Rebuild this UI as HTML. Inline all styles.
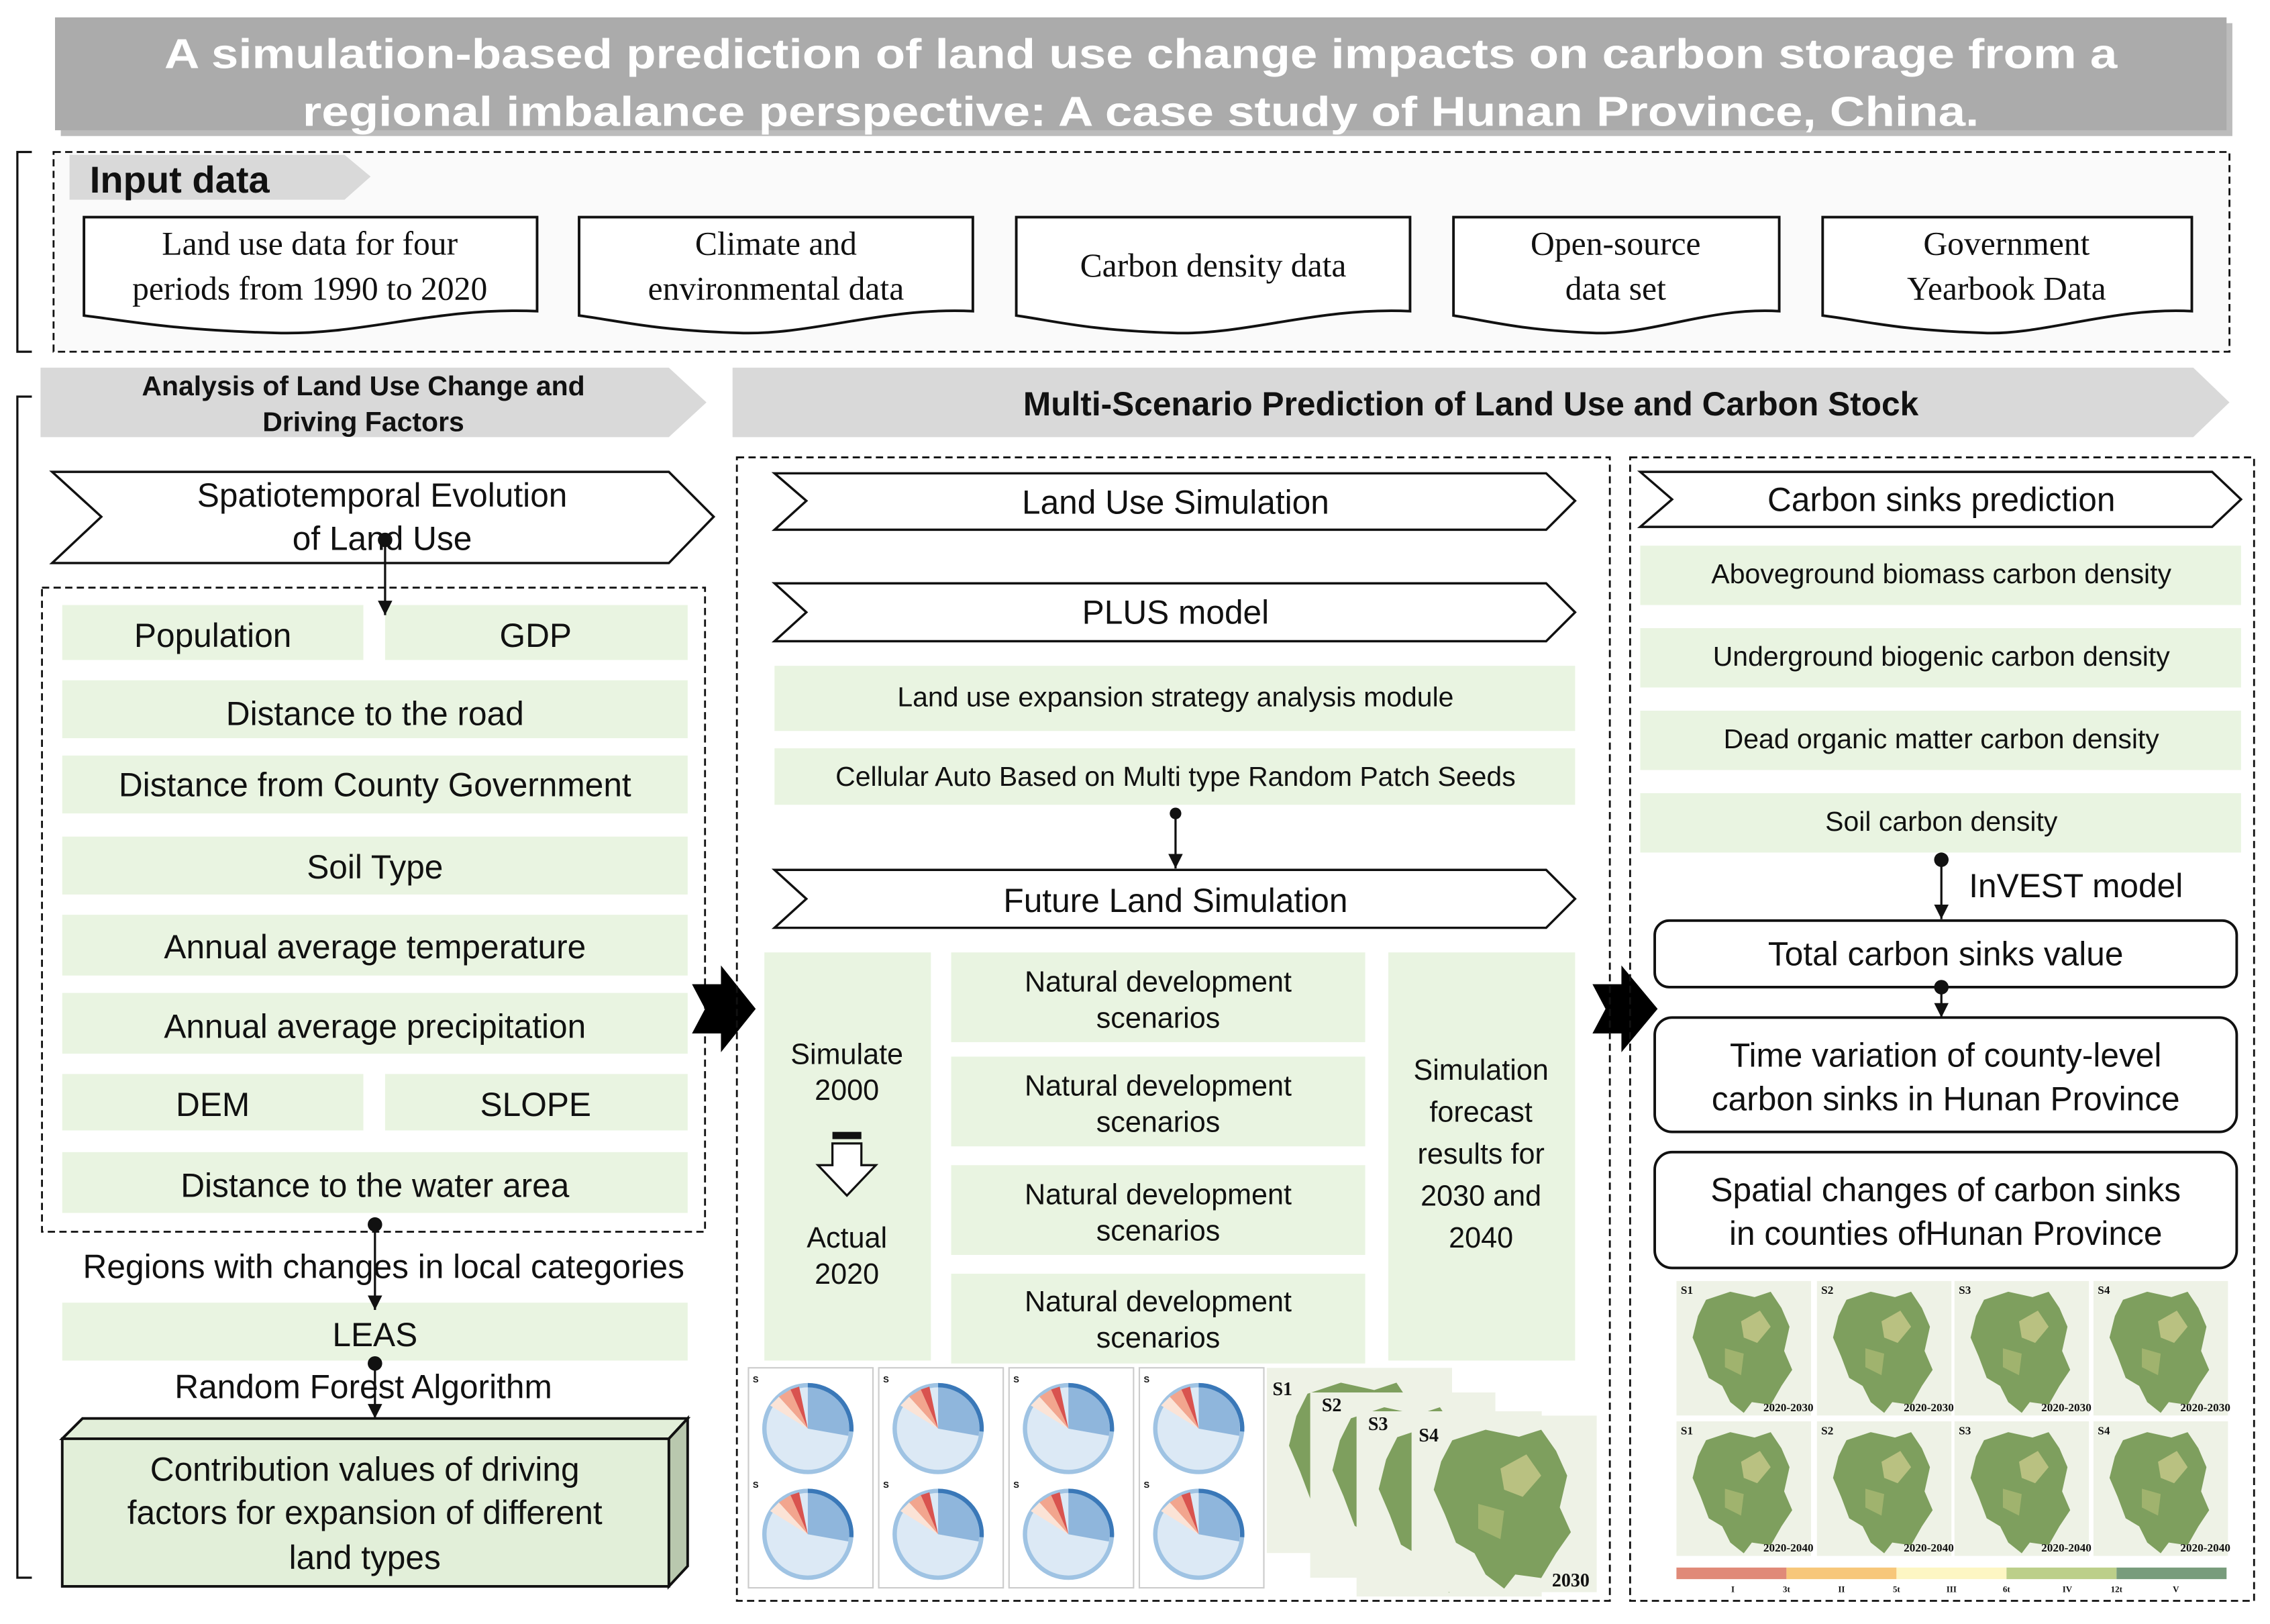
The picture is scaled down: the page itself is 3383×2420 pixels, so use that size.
<!DOCTYPE html>
<html><head><meta charset="utf-8"><style>
html,body{margin:0;padding:0;background:#fff;}
svg{display:block}
text{font-family:"Liberation Sans",Arial,sans-serif;fill:#111}
.serif{font-family:"Liberation Serif","Times New Roman",serif}
.g{fill:#e9f4e1}
.chev{fill:#fff;stroke:#111;stroke-width:1.6}
.dash{fill:none;stroke:#111;stroke-width:1.3;stroke-dasharray:5 3}
</style></head><body>
<svg width="3383" height="2420" viewBox="0 0 1568 1122" preserveAspectRatio="none" xmlns="http://www.w3.org/2000/svg">
<defs>
<marker id="ah" markerWidth="10" markerHeight="10" refX="10" refY="5" orient="auto" markerUnits="userSpaceOnUse"><path d="M0,0 L10,5 L0,10 z" fill="#111"/></marker>
<symbol id="chord" viewBox="0 0 85 75">
<circle cx="40" cy="40" r="30" fill="#dce9f5" stroke="#9fc3e3" stroke-width="3"/>
<path d="M40,10 A30,30 0 0 1 68,45 L40,40 z" fill="#8fb6dc"/>
<path d="M40,10 A30,30 0 0 1 70,42" fill="none" stroke="#3a78b8" stroke-width="3"/>
<path d="M28,13 L40,40 L34,11 z" fill="#d9534f"/>
<path d="M20,18 L40,40 L28,13 z" fill="#f2a58e"/>
<path d="M14,24 L40,40 L20,18 z" fill="#fbe3d6"/>
<text x="2" y="8" font-size="6" font-weight="bold">S</text>
</symbol>
<symbol id="hunan" viewBox="0 0 100 100">
<rect width="100" height="100" fill="#eef2e6"/>
<path d="M22,14 L40,8 L58,12 L70,8 L78,20 L84,34 L80,52 L86,66 L78,78 L70,92 L56,90 L50,98 L40,90 L34,78 L24,72 L18,56 L12,42 L16,26 z" fill="#7e9f5e"/>
<path d="M48,30 L62,22 L70,34 L60,46 L50,42 z" fill="#c8c98a" opacity=".8"/>
<path d="M36,50 L50,54 L48,70 L36,64 z" fill="#a9b872" opacity=".8"/>
</symbol>
</defs>

<!-- Title -->
<rect x="42" y="16" width="1500" height="78" fill="#7a7a7a" opacity=".5"/>
<rect x="38" y="12" width="1500" height="78" fill="#ababab"/>
<text x="788" y="47" font-size="29" font-weight="bold" text-anchor="middle" style="fill:#fff" textLength="1349" lengthAdjust="spacingAndGlyphs">A simulation-based prediction of land use change impacts on carbon storage from a</text>
<text x="788" y="87" font-size="29" font-weight="bold" text-anchor="middle" style="fill:#fff" textLength="1158" lengthAdjust="spacingAndGlyphs">regional imbalance perspective: A case study of Hunan Province, China.</text>

<!-- Input data -->
<path d="M22,105 L12,105 L12,243 L22,243" fill="none" stroke="#111" stroke-width="1.5"/>
<rect x="37" y="105" width="1503" height="138" class="dash" style="fill:#fafafa"/>
<path d="M48,107 L238,107 L256,122 L238,138 L48,138 z" fill="#d9d9d9"/>
<text x="62" y="133" font-size="26" font-weight="bold">Input data</text>
<g stroke="#111" stroke-width="1.8" fill="#fff">
<path d="M58,150 L371,150 L371,215 C300,212 250,232 190,230 C120,228 90,222 58,218 z"/>
<path d="M400,150 L672,150 L672,215 C610,212 560,232 510,230 C450,228 430,222 400,218 z"/>
<path d="M702,150 L974,150 L974,215 C910,212 860,232 810,230 C750,228 730,222 702,218 z"/>
<path d="M1004,150 L1229,150 L1229,215 C1180,212 1140,232 1100,230 C1050,228 1030,222 1004,218 z"/>
<path d="M1259,150 L1514,150 L1514,215 C1460,212 1410,232 1370,230 C1310,228 1290,222 1259,218 z"/>
</g>
<g font-size="23" text-anchor="middle">
<text class="serif" x="214" y="176">Land use data for four</text>
<text class="serif" x="214" y="207">periods from 1990 to 2020</text>
<text class="serif" x="536" y="176">Climate and</text>
<text class="serif" x="536" y="207">environmental data</text>
<text class="serif" x="838" y="191">Carbon density data</text>
<text class="serif" x="1116" y="176">Open-source</text>
<text class="serif" x="1116" y="207">data set</text>
<text class="serif" x="1386" y="176">Government</text>
<text class="serif" x="1386" y="207">Yearbook Data</text>
</g>

<!-- Section headers -->
<path d="M28,254 L462,254 L488,278 L462,302 L28,302 z" fill="#d9d9d9"/>
<text x="251" y="273" font-size="19" font-weight="bold" text-anchor="middle">Analysis of Land Use Change and</text>
<text x="251" y="298" font-size="19" font-weight="bold" text-anchor="middle">Driving Factors</text>
<path d="M506,254 L1515,254 L1540,278 L1515,302 L506,302 z" fill="#d9d9d9"/>
<text x="1016" y="287" font-size="23" font-weight="bold" text-anchor="middle">Multi-Scenario Prediction of Land Use and Carbon Stock</text>

<!-- Left column -->
<path d="M22,274 L12,274 L12,1090 L22,1090" fill="none" stroke="#111" stroke-width="1.5"/>
<path class="chev" d="M36,326 L462,326 L493,357 L462,389 L36,389 L70,357 z"/>
<text x="264" y="350" font-size="23" text-anchor="middle">Spatiotemporal Evolution</text>
<text x="264" y="380" font-size="23" text-anchor="middle">of Land Use</text>
<rect x="29" y="406" width="458" height="445" class="dash"/>
<g class="g">
<rect x="43" y="418" width="208" height="38"/><rect x="266" y="418" width="209" height="38"/>
<rect x="43" y="470" width="432" height="40"/>
<rect x="43" y="522" width="432" height="40"/>
<rect x="43" y="578" width="432" height="40"/>
<rect x="43" y="632" width="432" height="42"/>
<rect x="43" y="686" width="432" height="42"/>
<rect x="43" y="742" width="208" height="39"/><rect x="266" y="742" width="209" height="39"/>
<rect x="43" y="796" width="432" height="42"/>
<rect x="43" y="900" width="432" height="40"/>
</g>
<g font-size="23" text-anchor="middle">
<text x="147" y="447">Population</text><text x="370" y="447">GDP</text>
<text x="259" y="501">Distance to the road</text>
<text x="259" y="550">Distance from County Government</text>
<text x="259" y="607">Soil Type</text>
<text x="259" y="662">Annual average temperature</text>
<text x="259" y="717">Annual average precipitation</text>
<text x="147" y="771">DEM</text><text x="370" y="771">SLOPE</text>
<text x="259" y="827">Distance to the water area</text>
<text x="265" y="883">Regions with changes in local categories</text>
<text x="259" y="930">LEAS</text>
<text x="251" y="966">Random Forest Algorithm</text>
</g>
<g stroke="#111" stroke-width="1.5">
<line x1="266" y1="373" x2="266" y2="425" marker-end="url(#ah)"/>
<line x1="259" y1="846" x2="259" y2="905" marker-end="url(#ah)"/>
<line x1="259" y1="942" x2="259" y2="980" marker-end="url(#ah)"/>
</g>
<g fill="#111"><circle cx="266" cy="373" r="5"/><circle cx="259" cy="846" r="5"/><circle cx="259" cy="942" r="5"/></g>
<g stroke="#111" stroke-width="1.8">
<path d="M43,994 L57,980 L475,980 L462,994 z" fill="#e2efd9"/>
<path d="M462,994 L475,980 L475,1082 L462,1096 z" fill="#b9c8ae"/>
<rect x="43" y="994" width="419" height="102" fill="#e2efd9"/>
</g>
<g font-size="23" text-anchor="middle">
<text x="252" y="1023">Contribution values of driving</text>
<text x="252" y="1053">factors for expansion of different</text>
<text x="252" y="1084">land types</text>
</g>

<!-- Big arrows -->
<path d="M478,680 L498,680 L498,667 L522,697 L498,727 L498,714 L478,714 L487,697 z" fill="#000"/>
<path d="M1100,680 L1120,680 L1120,667 L1145,697 L1120,727 L1120,714 L1100,714 L1109,697 z" fill="#000"/>

<!-- Middle -->
<rect x="509" y="316" width="603" height="790" class="dash"/>
<path class="chev" d="M535,327 L1068,327 L1088,346 L1068,366 L535,366 L557,346 z"/>
<text x="812" y="355" font-size="23" text-anchor="middle">Land Use Simulation</text>
<path class="chev" d="M535,403 L1068,403 L1088,423 L1068,443 L535,443 L557,423 z"/>
<text x="812" y="431" font-size="23" text-anchor="middle">PLUS model</text>
<rect class="g" x="535" y="460" width="553" height="45"/>
<text x="812" y="488" font-size="19" text-anchor="middle">Land use expansion strategy analysis module</text>
<rect class="g" x="535" y="517" width="553" height="39"/>
<text x="812" y="543" font-size="19" text-anchor="middle">Cellular Auto Based on Multi type Random Patch Seeds</text>
<line x1="812" y1="562" x2="812" y2="600" stroke="#111" stroke-width="1.5" marker-end="url(#ah)"/>
<circle cx="812" cy="562" r="4" fill="#111"/>
<path class="chev" d="M535,601 L1068,601 L1088,621 L1068,641 L535,641 L557,621 z"/>
<text x="812" y="630" font-size="23" text-anchor="middle">Future Land Simulation</text>
<g class="g">
<rect x="528" y="658" width="115" height="282"/>
<rect x="657" y="658" width="286" height="62"/>
<rect x="657" y="730" width="286" height="62"/>
<rect x="657" y="805" width="286" height="62"/>
<rect x="657" y="880" width="286" height="62"/>
<rect x="959" y="658" width="129" height="282"/>
</g>
<g font-size="20" text-anchor="middle">
<text x="585" y="735">Simulate</text><text x="585" y="760">2000</text>
<text x="585" y="862">Actual</text><text x="585" y="887">2020</text>
<text x="800" y="685">Natural development</text><text x="800" y="710">scenarios</text>
<text x="800" y="757">Natural development</text><text x="800" y="782">scenarios</text>
<text x="800" y="832">Natural development</text><text x="800" y="857">scenarios</text>
<text x="800" y="906">Natural development</text><text x="800" y="931">scenarios</text>
<text x="1023" y="746">Simulation</text><text x="1023" y="775">forecast</text>
<text x="1023" y="804">results for</text><text x="1023" y="833">2030 and</text>
<text x="1023" y="862">2040</text>
</g>
<rect x="575" y="782" width="20" height="5" fill="#111"/>
<path d="M575,790 L595,790 L595,805 L605,805 L585,826 L565,805 L575,805 z" fill="#fff" stroke="#111" stroke-width="1.5"/>
<g>
<rect x="517" y="945" width="86" height="152" fill="#fff" stroke="#ccc"/>
<rect x="607" y="945" width="86" height="152" fill="#fff" stroke="#ccc"/>
<rect x="697" y="945" width="86" height="152" fill="#fff" stroke="#ccc"/>
<rect x="787" y="945" width="86" height="152" fill="#fff" stroke="#ccc"/>
<use href="#chord" x="518" y="947" width="85" height="75"/><use href="#chord" x="518" y="1020" width="85" height="75"/>
<use href="#chord" x="608" y="947" width="85" height="75"/><use href="#chord" x="608" y="1020" width="85" height="75"/>
<use href="#chord" x="698" y="947" width="85" height="75"/><use href="#chord" x="698" y="1020" width="85" height="75"/>
<use href="#chord" x="788" y="947" width="85" height="75"/><use href="#chord" x="788" y="1020" width="85" height="75"/>
</g>
<g>
<svg x="875" y="945" width="128" height="128" viewBox="0 0 100 100" preserveAspectRatio="none"><use href="#hunan"/></svg>
<svg x="905" y="962" width="128" height="128" viewBox="0 0 100 100" preserveAspectRatio="none"><use href="#hunan"/></svg>
<svg x="937" y="975" width="128" height="128" viewBox="0 0 100 100" preserveAspectRatio="none"><use href="#hunan"/></svg>
<svg x="975" y="978" width="128" height="122" viewBox="0 0 100 100" preserveAspectRatio="none"><use href="#hunan"/></svg>
</g>
<g font-weight="bold" font-size="13">
<text class="serif" x="879" y="964">S1</text><text class="serif" x="913" y="975">S2</text><text class="serif" x="945" y="988">S3</text><text class="serif" x="980" y="996">S4</text>
<text class="serif" x="1072" y="1096">2030</text>
</g>

<!-- Right -->
<rect x="1126" y="316" width="431" height="790" class="dash"/>
<path class="chev" d="M1133,326 L1528,326 L1548,345 L1528,364 L1133,364 L1155,345 z"/>
<text x="1341" y="353" font-size="23" text-anchor="middle">Carbon sinks prediction</text>
<g class="g">
<rect x="1133" y="377" width="415" height="41"/>
<rect x="1133" y="434" width="415" height="41"/>
<rect x="1133" y="491" width="415" height="41"/>
<rect x="1133" y="548" width="415" height="41"/>
</g>
<g font-size="19" text-anchor="middle">
<text x="1341" y="403">Aboveground biomass carbon density</text>
<text x="1341" y="460">Underground biogenic carbon density</text>
<text x="1341" y="517">Dead organic matter carbon density</text>
<text x="1341" y="574">Soil carbon density</text>
</g>
<line x1="1341" y1="594" x2="1341" y2="635" stroke="#111" stroke-width="1.5" marker-end="url(#ah)"/>
<circle cx="1341" cy="594" r="5" fill="#111"/>
<text x="1360" y="620" font-size="23">InVEST model</text>
<g fill="#fff" stroke="#111" stroke-width="1.8">
<rect x="1143" y="636" width="402" height="46" rx="10"/>
<rect x="1143" y="703" width="402" height="79" rx="12"/>
<rect x="1143" y="796" width="402" height="80" rx="12"/>
</g>
<line x1="1341" y1="682" x2="1341" y2="703" stroke="#111" stroke-width="1.5" marker-end="url(#ah)"/>
<circle cx="1341" cy="682" r="5" fill="#111"/>
<g font-size="23" text-anchor="middle">
<text x="1344" y="667">Total carbon sinks value</text>
<text x="1344" y="737">Time variation of county-level</text>
<text x="1344" y="767">carbon sinks in Hunan Province</text>
<text x="1344" y="830">Spatial changes of carbon sinks</text>
<text x="1344" y="860">in counties ofHunan Province</text>
</g>
<g>
<svg x="1158" y="885" width="93" height="93" viewBox="0 0 100 100" preserveAspectRatio="none"><use href="#hunan"/></svg>
<svg x="1255" y="885" width="93" height="93" viewBox="0 0 100 100" preserveAspectRatio="none"><use href="#hunan"/></svg>
<svg x="1350" y="885" width="93" height="93" viewBox="0 0 100 100" preserveAspectRatio="none"><use href="#hunan"/></svg>
<svg x="1446" y="885" width="93" height="93" viewBox="0 0 100 100" preserveAspectRatio="none"><use href="#hunan"/></svg>
<svg x="1158" y="982" width="93" height="93" viewBox="0 0 100 100" preserveAspectRatio="none"><use href="#hunan"/></svg>
<svg x="1255" y="982" width="93" height="93" viewBox="0 0 100 100" preserveAspectRatio="none"><use href="#hunan"/></svg>
<svg x="1350" y="982" width="93" height="93" viewBox="0 0 100 100" preserveAspectRatio="none"><use href="#hunan"/></svg>
<svg x="1446" y="982" width="93" height="93" viewBox="0 0 100 100" preserveAspectRatio="none"><use href="#hunan"/></svg>
</g>
<g font-size="8" font-weight="bold">
<text class="serif" x="1161" y="894">S1</text><text class="serif" x="1258" y="894">S2</text><text class="serif" x="1353" y="894">S3</text><text class="serif" x="1449" y="894">S4</text>
<text class="serif" x="1161" y="991">S1</text><text class="serif" x="1258" y="991">S2</text><text class="serif" x="1353" y="991">S3</text><text class="serif" x="1449" y="991">S4</text>
<text class="serif" x="1218" y="975">2020-2030</text><text class="serif" x="1315" y="975">2020-2030</text><text class="serif" x="1410" y="975">2020-2030</text><text class="serif" x="1506" y="975">2020-2030</text>
<text class="serif" x="1218" y="1072">2020-2040</text><text class="serif" x="1315" y="1072">2020-2040</text><text class="serif" x="1410" y="1072">2020-2040</text><text class="serif" x="1506" y="1072">2020-2040</text>
</g>
<rect x="1158" y="1083" width="76" height="8" fill="#e08a78"/>
<rect x="1234" y="1083" width="76" height="8" fill="#f7c77a"/>
<rect x="1310" y="1083" width="76" height="8" fill="#fdf6c3"/>
<rect x="1386" y="1083" width="76" height="8" fill="#bccf8a"/>
<rect x="1462" y="1083" width="76" height="8" fill="#789c7c"/>
<g font-size="6" font-weight="bold" text-anchor="middle">
<text class="serif" x="1197" y="1100">I</text><text class="serif" x="1234" y="1100">3t</text><text class="serif" x="1272" y="1100">II</text><text class="serif" x="1310" y="1100">5t</text><text class="serif" x="1348" y="1100">III</text><text class="serif" x="1386" y="1100">6t</text><text class="serif" x="1428" y="1100">IV</text><text class="serif" x="1462" y="1100">12t</text><text class="serif" x="1503" y="1100">V</text>
</g>
</svg>
</body></html>
